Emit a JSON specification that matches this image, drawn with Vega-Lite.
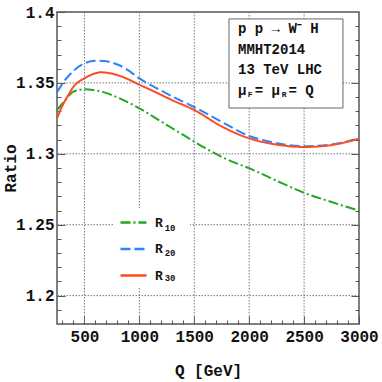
{
  "$schema": "https://vega.github.io/schema/vega-lite/v6.json",
  "width": 302,
  "height": 312,
  "autosize": {"type": "none"},
  "padding": {"left": 57, "top": 12, "right": 23, "bottom": 58},
  "background": "white",
  "config": {
    "view": {"stroke": "#555", "strokeWidth": 1.5},
    "font": "Liberation Mono",
    "axis": {
      "labelFont": "Liberation Mono", "labelFontWeight": "bold", "labelFontSize": 16, "labelColor": "#111",
      "titleFont": "Liberation Mono", "titleFontWeight": "bold", "titleFontSize": 16, "titleColor": "#111",
      "domain": false, "tickColor": "#555", "tickWidth": 1, "grid": false
    }
  },
  "datasets": {
    "curves": [
      {"Q": 250, "series": "R10", "ratio": 1.3309},
      {"Q": 300, "series": "R10", "ratio": 1.3355},
      {"Q": 400, "series": "R10", "ratio": 1.3438},
      {"Q": 500, "series": "R10", "ratio": 1.3455},
      {"Q": 600, "series": "R10", "ratio": 1.3447},
      {"Q": 700, "series": "R10", "ratio": 1.3428},
      {"Q": 800, "series": "R10", "ratio": 1.3398},
      {"Q": 900, "series": "R10", "ratio": 1.3362},
      {"Q": 1000, "series": "R10", "ratio": 1.3321},
      {"Q": 1200, "series": "R10", "ratio": 1.3227},
      {"Q": 1400, "series": "R10", "ratio": 1.3133},
      {"Q": 1600, "series": "R10", "ratio": 1.3040},
      {"Q": 1800, "series": "R10", "ratio": 1.2960},
      {"Q": 2000, "series": "R10", "ratio": 1.2898},
      {"Q": 2250, "series": "R10", "ratio": 1.2810},
      {"Q": 2500, "series": "R10", "ratio": 1.2725},
      {"Q": 2750, "series": "R10", "ratio": 1.2660},
      {"Q": 3000, "series": "R10", "ratio": 1.2599},
      {"Q": 250, "series": "R20", "ratio": 1.3434},
      {"Q": 300, "series": "R20", "ratio": 1.3495},
      {"Q": 400, "series": "R20", "ratio": 1.3585},
      {"Q": 500, "series": "R20", "ratio": 1.3638},
      {"Q": 600, "series": "R20", "ratio": 1.3657},
      {"Q": 700, "series": "R20", "ratio": 1.3652},
      {"Q": 800, "series": "R20", "ratio": 1.3630},
      {"Q": 900, "series": "R20", "ratio": 1.3588},
      {"Q": 1000, "series": "R20", "ratio": 1.3532},
      {"Q": 1100, "series": "R20", "ratio": 1.3486},
      {"Q": 1200, "series": "R20", "ratio": 1.3445},
      {"Q": 1300, "series": "R20", "ratio": 1.3405},
      {"Q": 1500, "series": "R20", "ratio": 1.3330},
      {"Q": 1750, "series": "R20", "ratio": 1.3225},
      {"Q": 2000, "series": "R20", "ratio": 1.3126},
      {"Q": 2250, "series": "R20", "ratio": 1.3075},
      {"Q": 2500, "series": "R20", "ratio": 1.3054},
      {"Q": 2750, "series": "R20", "ratio": 1.3066},
      {"Q": 3000, "series": "R20", "ratio": 1.3108},
      {"Q": 250, "series": "R30", "ratio": 1.3250},
      {"Q": 300, "series": "R30", "ratio": 1.3340},
      {"Q": 350, "series": "R30", "ratio": 1.3410},
      {"Q": 400, "series": "R30", "ratio": 1.3473},
      {"Q": 500, "series": "R30", "ratio": 1.3532},
      {"Q": 600, "series": "R30", "ratio": 1.3568},
      {"Q": 650, "series": "R30", "ratio": 1.3575},
      {"Q": 700, "series": "R30", "ratio": 1.3572},
      {"Q": 800, "series": "R30", "ratio": 1.3555},
      {"Q": 900, "series": "R30", "ratio": 1.3525},
      {"Q": 1000, "series": "R30", "ratio": 1.3487},
      {"Q": 1100, "series": "R30", "ratio": 1.3452},
      {"Q": 1200, "series": "R30", "ratio": 1.3415},
      {"Q": 1300, "series": "R30", "ratio": 1.3378},
      {"Q": 1500, "series": "R30", "ratio": 1.3309},
      {"Q": 1750, "series": "R30", "ratio": 1.3193},
      {"Q": 2000, "series": "R30", "ratio": 1.3109},
      {"Q": 2250, "series": "R30", "ratio": 1.3065},
      {"Q": 2500, "series": "R30", "ratio": 1.3048},
      {"Q": 2750, "series": "R30", "ratio": 1.3062},
      {"Q": 3000, "series": "R30", "ratio": 1.3106}
    ],
    "xgrid": [{"Q": 500}, {"Q": 1000}, {"Q": 1500}, {"Q": 2000}, {"Q": 2500}],
    "ygrid": [{"ratio": 1.2}, {"ratio": 1.25}, {"ratio": 1.3}, {"ratio": 1.35}],
    "one": [{}]
  },
  "resolve": {"axis": {"x": "independent", "y": "independent"}, "scale": {"x": "shared", "y": "shared"}},
  "layer": [
    {
      "data": {"name": "curves"},
      "mark": {"type": "line", "strokeWidth": 2, "interpolate": "monotone"},
      "encoding": {
        "x": {"field": "Q", "type": "quantitative", "scale": {"domain": [250, 3000], "nice": false, "zero": false},
          "axis": {"orient": "bottom", "values": [500, 1000, 1500, 2000, 2500, 3000], "format": "d", "tickSize": -8, "labelPadding": 12, "labelFlush": false,
            "title": "Q [GeV]", "titleX": 151, "titleY": 46, "titleBaseline": "middle", "titleAlign": "center"}},
        "y": {"field": "ratio", "type": "quantitative", "scale": {"domain": [1.18, 1.4], "nice": false, "zero": false},
          "axis": {"orient": "left", "values": [1.2, 1.25, 1.3, 1.35, 1.4], "tickSize": -8, "labelPadding": 11, "format": ".4~f",
            "title": "Ratio", "titleX": -47, "titleY": 156, "titleAngle": -90, "titleBaseline": "middle", "titleAlign": "center"}},
        "color": {"field": "series", "type": "nominal",
          "scale": {"domain": ["R10", "R20", "R30"], "range": ["#22a722", "#2b83ff", "#ff4b23"]},
          "legend": {"orient": "none", "legendX": 56, "legendY": 190, "title": null, "symbolType": "stroke", "symbolSize": 676, "symbolStrokeWidth": 2.5,
            "labelExpr": "'R'", "labelFont": "Liberation Mono", "labelFontWeight": "bold", "labelFontSize": 13, "labelColor": "#111", "labelOffset": 7,
            "rowPadding": 4.5, "padding": 6}},
        "strokeDash": {"field": "series", "type": "nominal",
          "scale": {"domain": ["R10", "R20", "R30"], "range": [[10, 3, 2, 3], [10, 4], [1, 0]]},
          "legend": null}
      }
    },
    {
      "data": {"name": "curves"},
      "mark": {"type": "line", "strokeOpacity": 0},
      "encoding": {
        "x": {"field": "Q", "type": "quantitative",
          "axis": {"orient": "bottom", "values": [300,400,600,700,800,900,1100,1200,1300,1400,1600,1700,1800,1900,2100,2200,2300,2400,2600,2700,2800,2900], "labels": false, "tickSize": -4, "title": null}},
        "y": {"field": "ratio", "type": "quantitative",
          "axis": {"orient": "left", "values": [1.19,1.21,1.22,1.23,1.24,1.26,1.27,1.28,1.29,1.31,1.32,1.33,1.34,1.36,1.37,1.38,1.39], "labels": false, "tickSize": -4, "title": null}},
        "detail": {"field": "series"}
      }
    },
    {
      "data": {"name": "curves"},
      "mark": {"type": "line", "strokeOpacity": 0},
      "encoding": {
        "x": {"field": "Q", "type": "quantitative", "axis": null},
        "y": {"field": "ratio", "type": "quantitative",
          "axis": {"orient": "right", "values": [1.19,1.21,1.22,1.23,1.24,1.26,1.27,1.28,1.29,1.31,1.32,1.33,1.34,1.36,1.37,1.38,1.39], "labels": false, "tickSize": -4, "title": null}},
        "detail": {"field": "series"}
      }
    },
    {
      "data": {"name": "curves"},
      "mark": {"type": "line", "strokeOpacity": 0},
      "encoding": {
        "x": {"field": "Q", "type": "quantitative", "axis": null},
        "y": {"field": "ratio", "type": "quantitative",
          "axis": {"orient": "right", "values": [1.2, 1.25, 1.3, 1.35], "labels": false, "tickSize": -8, "title": null}},
        "detail": {"field": "series"}
      }
    },
    {
      "data": {"name": "xgrid"},
      "mark": {"type": "rule", "stroke": "#777", "strokeDash": [1.5, 1.5], "strokeWidth": 1},
      "encoding": {
        "x": {"field": "Q", "type": "quantitative", "axis": null}
      }
    },
    {
      "data": {"name": "ygrid"},
      "mark": {"type": "rule", "stroke": "#777", "strokeDash": [1.5, 1.5], "strokeWidth": 1},
      "encoding": {
        "y": {"field": "ratio", "type": "quantitative", "axis": null}
      }
    },
    {
      "data": {"name": "one"},
      "mark": {"type": "rect", "fill": "white", "stroke": null},
      "encoding": {
        "x": {"datum": 760, "type": "quantitative", "axis": null},
        "x2": {"datum": 1461},
        "y": {"datum": 1.2618, "type": "quantitative", "axis": null},
        "y2": {"datum": 1.2061}
      }
    },
    {
      "data": {"name": "one"},
      "mark": {"type": "text", "align": "center", "baseline": "middle", "font": "Liberation Mono", "fontWeight": "bold", "fontSize": 9, "color": "#111"},
      "encoding": {
        "x": {"datum": 1280, "type": "quantitative", "axis": null},
        "y": {"datum": 1.2478, "type": "quantitative", "axis": null},
        "text": {"value": "10"}
      }
    },
    {
      "data": {"name": "one"},
      "mark": {"type": "text", "align": "center", "baseline": "middle", "font": "Liberation Mono", "fontWeight": "bold", "fontSize": 9, "color": "#111"},
      "encoding": {
        "x": {"datum": 1280, "type": "quantitative", "axis": null},
        "y": {"datum": 1.2298, "type": "quantitative", "axis": null},
        "text": {"value": "20"}
      }
    },
    {
      "data": {"name": "one"},
      "mark": {"type": "text", "align": "center", "baseline": "middle", "font": "Liberation Mono", "fontWeight": "bold", "fontSize": 9, "color": "#111"},
      "encoding": {
        "x": {"datum": 1280, "type": "quantitative", "axis": null},
        "y": {"datum": 1.2125, "type": "quantitative", "axis": null},
        "text": {"value": "30"}
      }
    },
    {
      "data": {"name": "one"},
      "mark": {"type": "rect", "fill": "white", "stroke": "#666", "strokeWidth": 1},
      "encoding": {
        "x": {"datum": 1816, "type": "quantitative", "axis": null},
        "x2": {"datum": 2854},
        "y": {"datum": 1.3951, "type": "quantitative", "axis": null},
        "y2": {"datum": 1.3323}
      }
    },
    {
      "data": {"name": "one"},
      "mark": {"type": "text", "align": "left", "baseline": "middle", "font": "Liberation Mono", "fontWeight": "bold", "fontSize": 14, "color": "#111", "lineHeight": 20.4},
      "encoding": {
        "x": {"datum": 1898, "type": "quantitative", "axis": null},
        "y": {"datum": 1.3877, "type": "quantitative", "axis": null},
        "text": {"value": ["p p → W⁻ H", "MMHT2014", "13 TeV LHC", "μ = μ = Q"]}
      }
    },
    {
      "data": {"name": "one"},
      "mark": {"type": "text", "align": "center", "baseline": "middle", "font": "Liberation Mono", "fontWeight": "bold", "fontSize": 8, "color": "#111"},
      "encoding": {
        "x": {"datum": 2010, "type": "quantitative", "axis": null},
        "y": {"datum": 1.3418, "type": "quantitative", "axis": null},
        "text": {"value": "F"}
      }
    },
    {
      "data": {"name": "one"},
      "mark": {"type": "text", "align": "center", "baseline": "middle", "font": "Liberation Mono", "fontWeight": "bold", "fontSize": 8, "color": "#111"},
      "encoding": {
        "x": {"datum": 2319, "type": "quantitative", "axis": null},
        "y": {"datum": 1.3418, "type": "quantitative", "axis": null},
        "text": {"value": "R"}
      }
    }
  ]
}
